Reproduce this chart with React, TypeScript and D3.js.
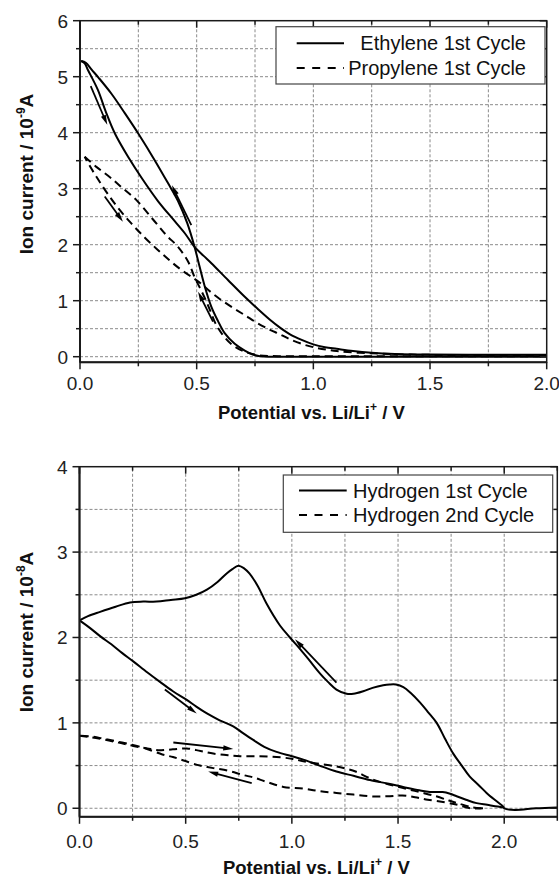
import React from 'react';
import * as d3 from 'd3';

type Pt = [number, number];

const FONT = '"Liberation Sans", Arial, Helvetica, sans-serif';

// ---------- Top panel data (10^-9 A) ----------
const ethyleneSweepDown: Pt[] = [
  [2.0, 0.0], [1.5, 0.0], [1.0, 0.0], [0.82, 0.0], [0.771, 0.01], [0.74, 0.04], [0.706, 0.11],
  [0.663, 0.23], [0.62, 0.42], [0.591, 0.64], [0.563, 0.89], [0.535, 1.25], [0.513, 1.6],
  [0.491, 1.96], [0.46, 2.38], [0.42, 2.78], [0.377, 3.1], [0.32, 3.51], [0.249, 3.99],
  [0.192, 4.35], [0.134, 4.7], [0.08, 4.98], [0.049, 5.13], [0.025, 5.25], [0.005, 5.28],
];
const ethyleneSweepUp: Pt[] = [
  [0.005, 5.28], [0.02, 5.24], [0.034, 5.12], [0.077, 4.76], [0.11, 4.38], [0.149, 3.99],
  [0.206, 3.57], [0.263, 3.2], [0.334, 2.78], [0.406, 2.42], [0.45, 2.2], [0.491, 1.96],
  [0.53, 1.8], [0.563, 1.67], [0.634, 1.37], [0.706, 1.07], [0.76, 0.86], [0.814, 0.66],
  [0.857, 0.52], [0.9, 0.4], [0.95, 0.3], [1.0, 0.22], [1.05, 0.17], [1.1, 0.14], [1.17, 0.1],
  [1.25, 0.07], [1.35, 0.05], [1.5, 0.04], [1.75, 0.035], [2.0, 0.035],
];
const propyleneBranchA: Pt[] = [
  [2.0, 0.03], [1.6, 0.03], [1.4, 0.04], [1.25, 0.06], [1.1, 0.1], [1.0, 0.17], [0.957, 0.22],
  [0.9, 0.31], [0.857, 0.4], [0.814, 0.48], [0.76, 0.6], [0.707, 0.74], [0.653, 0.88],
  [0.596, 1.04], [0.55, 1.19], [0.52, 1.3], [0.484, 1.41], [0.434, 1.55], [0.381, 1.73],
  [0.33, 1.92], [0.277, 2.13], [0.22, 2.38], [0.17, 2.62], [0.12, 2.9], [0.08, 3.15],
  [0.05, 3.35], [0.02, 3.57],
];
const propyleneBranchB: Pt[] = [
  [0.02, 3.57], [0.07, 3.39], [0.127, 3.21], [0.177, 3.03], [0.241, 2.8], [0.313, 2.45],
  [0.37, 2.17], [0.42, 1.96], [0.463, 1.7], [0.491, 1.42], [0.515, 1.22], [0.54, 1.0],
  [0.56, 0.8], [0.58, 0.6], [0.61, 0.4], [0.65, 0.22], [0.7, 0.1], [0.76, 0.03], [0.85, 0.01],
  [1.2, 0.01], [2.0, 0.01],
];
// arrows: [x1, y1, x2, y2], head at (x2, y2)
const topArrows: number[][] = [
  [0.046, 4.83, 0.117, 4.14],
  [0.477, 2.35, 0.394, 3.06],
  [0.57, 0.625, 0.506, 1.16],
  [0.106, 2.86, 0.184, 2.41],
];

// ---------- Bottom panel data (10^-8 A) ----------
const hydrogen1SweepDown: Pt[] = [
  [2.25, 0.01], [2.15, 0.0], [2.05, -0.02], [2.0, 0.0], [1.995, 0.02], [1.96, 0.09],
  [1.917, 0.18], [1.88, 0.27], [1.838, 0.37], [1.8, 0.5], [1.76, 0.64], [1.72, 0.82],
  [1.682, 1.0], [1.64, 1.13], [1.603, 1.24], [1.56, 1.35], [1.525, 1.42], [1.49, 1.45],
  [1.46, 1.45], [1.43, 1.44], [1.38, 1.41], [1.336, 1.37], [1.29, 1.34], [1.258, 1.34],
  [1.21, 1.39], [1.17, 1.48], [1.132, 1.58], [1.08, 1.74], [1.04, 1.86], [0.991, 2.0],
  [0.944, 2.14], [0.88, 2.4], [0.84, 2.6], [0.8, 2.75], [0.775, 2.81], [0.748, 2.84],
  [0.72, 2.8], [0.693, 2.75], [0.65, 2.65], [0.6, 2.56], [0.55, 2.5], [0.497, 2.46],
  [0.43, 2.44], [0.363, 2.42], [0.3, 2.42], [0.238, 2.41], [0.17, 2.36], [0.097, 2.3],
  [0.04, 2.25], [0.0, 2.2],
];
const hydrogen1SweepUp: Pt[] = [
  [0.0, 2.2], [0.05, 2.11], [0.1, 2.01], [0.15, 1.92], [0.2, 1.82], [0.253, 1.72], [0.32, 1.59],
  [0.379, 1.48], [0.44, 1.37], [0.505, 1.27], [0.55, 1.19], [0.6, 1.11], [0.66, 1.03],
  [0.724, 0.96], [0.77, 0.88], [0.818, 0.8], [0.87, 0.72], [0.928, 0.66], [1.0, 0.61],
  [1.054, 0.57], [1.13, 0.5], [1.21, 0.43], [1.29, 0.38], [1.368, 0.33], [1.45, 0.29],
  [1.524, 0.25], [1.6, 0.21], [1.65, 0.19], [1.71, 0.19], [1.745, 0.17], [1.776, 0.14],
  [1.82, 0.1], [1.87, 0.06], [1.92, 0.04], [1.97, 0.02], [2.0, 0.01],
];
const hydrogen2SweepUp: Pt[] = [
  [0.0, 0.85], [0.06, 0.83], [0.144, 0.79], [0.2, 0.76], [0.253, 0.73], [0.32, 0.7],
  [0.379, 0.68], [0.44, 0.69], [0.505, 0.7], [0.57, 0.67], [0.63, 0.64], [0.7, 0.62],
  [0.756, 0.61], [0.84, 0.61], [0.928, 0.6], [1.0, 0.58], [1.054, 0.55], [1.13, 0.52],
  [1.21, 0.49], [1.26, 0.46], [1.3, 0.43], [1.368, 0.35], [1.44, 0.29], [1.52, 0.24],
  [1.6, 0.19], [1.68, 0.14], [1.74, 0.09], [1.78, 0.06], [1.85, 0.01], [1.9, 0.0],
];
const hydrogen2SweepDown: Pt[] = [
  [1.9, 0.0], [1.84, 0.0], [1.78, 0.04], [1.72, 0.07], [1.64, 0.1], [1.58, 0.13], [1.52, 0.15],
  [1.45, 0.14], [1.37, 0.14], [1.29, 0.16], [1.21, 0.18], [1.13, 0.2], [1.054, 0.23],
  [0.96, 0.25], [0.88, 0.31], [0.82, 0.36], [0.77, 0.39], [0.7, 0.44], [0.63, 0.47],
  [0.567, 0.5], [0.49, 0.56], [0.44, 0.6], [0.39, 0.63], [0.3, 0.71], [0.2, 0.77],
  [0.12, 0.81], [0.06, 0.84], [0.0, 0.85],
];
const bottomArrows: number[][] = [
  [0.402, 1.39, 0.552, 1.11],
  [0.442, 0.77, 0.724, 0.695],
  [0.811, 0.293, 0.606, 0.43],
  [1.21, 1.47, 1.015, 1.98],
];

// ---------- ticks / labels ----------
const topXTicks = [0, 0.5, 1.0, 1.5, 2.0];
const topYTicks = [0, 1, 2, 3, 4, 5, 6];
const bottomXTicks = [0, 0.5, 1.0, 1.5, 2.0];
const bottomYTicks = [0, 1, 2, 3, 4];
const topLegend = ['Ethylene 1st Cycle', 'Propylene 1st Cycle'];
const bottomLegend = ['Hydrogen 1st Cycle', 'Hydrogen 2nd Cycle'];
const xAxisTitle = 'Potential vs. Li/Li';
const yAxisTitle = 'Ion current / 10';

const CURVE_DASH = '8,5';

type Series = { pts: Pt[]; dashed: boolean };

interface PanelProps {
  xDomain: [number, number];
  yDomain: [number, number];
  xRange: [number, number];
  yRange: [number, number];
  xTicks: number[];
  yTicks: number[];
  xMax: number;
  yMax: number;
  series: Series[];
  arrows: number[][];
  exponent: string;
  yTitleCenter: number;
  xTickBaseline: number;
  xTitleBaseline: number;
  legend: string[];
  legendBox: [number, number, number, number];
  legendLineX: [number, number];
  legendRowsY: number[];
  legendTextX: number;
  legendAnchor: 'start' | 'end';
}

function Panel(p: PanelProps) {
  const x = d3.scaleLinear().domain(p.xDomain).range(p.xRange);
  const y = d3.scaleLinear().domain(p.yDomain).range(p.yRange);
  const line = d3
    .line<Pt>()
    .x((d) => x(d[0]))
    .y((d) => y(d[1]))
    .curve(d3.curveCatmullRom.alpha(0.5));

  const x0 = p.xRange[0];
  const x1 = p.xRange[1];
  const yb = p.yRange[0];
  const yt = p.yRange[1];

  const xMinor = d3.range(0, p.xMax + 1e-9, 0.25);
  const yMinor = d3.range(0, p.yMax + 1e-9, 0.5);
  const isMajorX = (v: number) => p.xTicks.some((t) => Math.abs(t - v) < 1e-6);
  const isMajorY = (v: number) => p.yTicks.some((t) => Math.abs(t - v) < 1e-6);

  const gridColor = '#8a8a8a';
  const axisColor = '#1a1a1a';

  return (
    <g>
      {xMinor
        .filter((v) => x(v) > x0 + 1 && x(v) < x1 - 1)
        .map((v, i) => (
          <line key={'gx' + i} x1={x(v)} x2={x(v)} y1={yb} y2={yt} stroke={gridColor} strokeWidth={1} strokeDasharray="3,2" />
        ))}
      {yMinor
        .filter((v) => y(v) < yb - 1 && y(v) > yt + 1)
        .map((v, i) => (
          <line key={'gy' + i} x1={x0} x2={x1} y1={y(v)} y2={y(v)} stroke={gridColor} strokeWidth={1} strokeDasharray="3,2" />
        ))}

      {p.series.map((s, i) => (
        <path
          key={'s' + i}
          d={line(s.pts) || ''}
          fill="none"
          stroke="#000"
          strokeWidth={2}
          strokeDasharray={s.dashed ? CURVE_DASH : undefined}
          strokeLinejoin="round"
        />
      ))}

      {p.arrows.map((a, i) => {
        const ax1 = x(a[0]);
        const ay1 = y(a[1]);
        const ax2 = x(a[2]);
        const ay2 = y(a[3]);
        const len = Math.hypot(ax2 - ax1, ay2 - ay1);
        const ux = (ax2 - ax1) / len;
        const uy = (ay2 - ay1) / len;
        const nx = -uy;
        const ny = ux;
        const hl = 10;
        const hw = 2.6;
        const bx = ax2 - ux * hl;
        const by = ay2 - uy * hl;
        return (
          <g key={'a' + i}>
            <line x1={ax1} y1={ay1} x2={bx + ux * 2} y2={by + uy * 2} stroke="#000" strokeWidth={1.8} />
            <path d={`M${ax2},${ay2}L${bx + nx * hw},${by + ny * hw}L${bx - nx * hw},${by - ny * hw}Z`} fill="#000" />
          </g>
        );
      })}

      <rect x={x0} y={yt} width={x1 - x0} height={yb - yt} fill="none" stroke={axisColor} strokeWidth={1.5} />
      <line x1={x0} x2={x0} y1={yt} y2={yb} stroke={axisColor} strokeWidth={2} />
      <line x1={x0} x2={x1} y1={yb} y2={yb} stroke={axisColor} strokeWidth={2} />

      {xMinor.map((v, i) => {
        const L = isMajorX(v) ? 7 : 4;
        return (
          <g key={'xt' + i}>
            <line x1={x(v)} x2={x(v)} y1={yb} y2={yb + L} stroke={axisColor} strokeWidth={1.5} />
            <line x1={x(v)} x2={x(v)} y1={yt} y2={yt + L} stroke={axisColor} strokeWidth={1.5} />
          </g>
        );
      })}
      {yMinor.map((v, i) => {
        const L = isMajorY(v) ? 7 : 4;
        return (
          <g key={'yt' + i}>
            <line x1={x0 - L} x2={x0} y1={y(v)} y2={y(v)} stroke={axisColor} strokeWidth={1.5} />
            <line x1={x1 - L} x2={x1} y1={y(v)} y2={y(v)} stroke={axisColor} strokeWidth={1.5} />
          </g>
        );
      })}

      {p.xTicks.map((v, i) => (
        <text key={'xl' + i} x={x(v)} y={p.xTickBaseline} textAnchor="middle" fontFamily={FONT} fontSize={19} fill="#222">
          {d3.format('.1f')(v)}
        </text>
      ))}
      {p.yTicks.map((v, i) => (
        <text key={'yl' + i} x={x0 - 12} y={y(v)} dy="0.36em" textAnchor="end" fontFamily={FONT} fontSize={19} fill="#222">
          {d3.format('d')(v)}
        </text>
      ))}

      <text x={(x0 + x1) / 2 - 2} y={p.xTitleBaseline} textAnchor="middle" fontFamily={FONT} fontSize={18.5} fontWeight="bold" fill="#111">
        {xAxisTitle}
        <tspan fontSize={12} dy={-8}>+</tspan>
        <tspan dy={8}> / V</tspan>
      </text>
      <text
        transform={`translate(33,${p.yTitleCenter}) rotate(-90)`}
        textAnchor="middle"
        fontFamily={FONT}
        fontSize={19}
        fontWeight="bold"
        fill="#111"
      >
        {yAxisTitle}
        <tspan fontSize={12} dy={-8}>{p.exponent}</tspan>
        <tspan dy={8}>A</tspan>
      </text>

      <rect
        x={p.legendBox[0]}
        y={p.legendBox[1]}
        width={p.legendBox[2] - p.legendBox[0]}
        height={p.legendBox[3] - p.legendBox[1]}
        fill="#fff"
        stroke="#444"
        strokeWidth={1.2}
      />
      {p.legend.map((t, i) => (
        <g key={'lg' + i}>
          <line
            x1={p.legendLineX[0]}
            x2={p.legendLineX[1]}
            y1={p.legendRowsY[i] - 7}
            y2={p.legendRowsY[i] - 7}
            stroke="#000"
            strokeWidth={2}
            strokeDasharray={i === 1 ? '8,7.5' : undefined}
          />
          <text x={p.legendTextX} y={p.legendRowsY[i]} textAnchor={p.legendAnchor} fontFamily={FONT} fontSize={20} fill="#111">
            {t}
          </text>
        </g>
      ))}
    </g>
  );
}

export default function App() {
  return (
    <svg
      width={559}
      height={878}
      style={{ position: 'absolute', left: 0, top: 0, display: 'block', background: '#fff' }}
    >
      <rect x={0} y={0} width={559} height={878} fill="#fff" />
      <Panel
        xDomain={[0, 2]}
        yDomain={[-0.1, 6]}
        xRange={[80, 546.7]}
        yRange={[362.3, 20.7]}
        xTicks={topXTicks}
        yTicks={topYTicks}
        xMax={2}
        yMax={6}
        series={[
          { pts: ethyleneSweepDown, dashed: false },
          { pts: ethyleneSweepUp, dashed: false },
          { pts: propyleneBranchA, dashed: true },
          { pts: propyleneBranchB, dashed: true },
        ]}
        arrows={topArrows}
        exponent="-9"
        yTitleCenter={174}
        xTickBaseline={390}
        xTitleBaseline={419}
        legend={topLegend}
        legendBox={[276, 26.7, 545, 84]}
        legendLineX={[296.7, 344]}
        legendRowsY={[50.3, 75]}
        legendTextX={526}
        legendAnchor="end"
      />
      <Panel
        xDomain={[0, 2.25]}
        yDomain={[-0.1, 4]}
        xRange={[79.5, 557.3]}
        yRange={[816.8, 466.7]}
        xTicks={bottomXTicks}
        yTicks={bottomYTicks}
        xMax={2.25}
        yMax={4}
        series={[
          { pts: hydrogen1SweepDown, dashed: false },
          { pts: hydrogen1SweepUp, dashed: false },
          { pts: hydrogen2SweepUp, dashed: true },
          { pts: hydrogen2SweepDown, dashed: true },
        ]}
        arrows={bottomArrows}
        exponent="-8"
        yTitleCenter={632}
        xTickBaseline={848}
        xTitleBaseline={874}
        legend={bottomLegend}
        legendBox={[283.3, 475, 552.7, 532.3]}
        legendLineX={[299, 346.7]}
        legendRowsY={[497.5, 522]}
        legendTextX={353}
        legendAnchor="start"
      />
    </svg>
  );
}
